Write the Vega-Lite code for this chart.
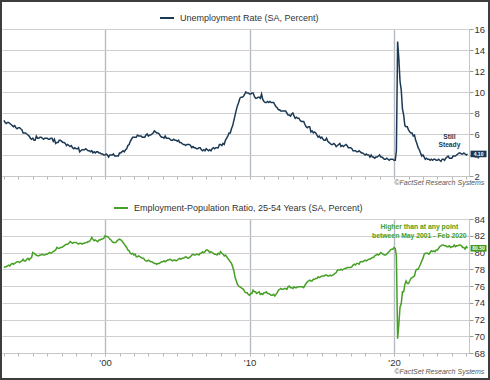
{
"$schema": "https://vega.github.io/schema/vega-lite/v6.json",
"width": 490, "height": 380,
"autosize": {"type": "none"},
"padding": 0,
"background": "white",
"config": {"view": {"stroke": "#3d3d3d", "strokeWidth": 4}, "font": "Liberation Sans"},
"datasets": {"m": [
{"d":"1993-01","u":7.3,"e":78.2},{"d":"1993-02","u":7.1,"e":78.3},{"d":"1993-03","u":7.0,"e":78.3},{"d":"1993-04","u":7.1,"e":78.4},{"d":"1993-05","u":7.1,"e":78.5},{"d":"1993-06","u":7.0,"e":78.4},{"d":"1993-07","u":6.9,"e":78.6},{"d":"1993-08","u":6.8,"e":78.7},{"d":"1993-09","u":6.7,"e":78.6},{"d":"1993-10","u":6.8,"e":78.7},{"d":"1993-11","u":6.6,"e":78.8},{"d":"1993-12","u":6.5,"e":78.9},
{"d":"1994-01","u":6.6,"e":78.9},{"d":"1994-02","u":6.6,"e":78.8},{"d":"1994-03","u":6.5,"e":78.9},{"d":"1994-04","u":6.4,"e":79.0},{"d":"1994-05","u":6.1,"e":79.2},{"d":"1994-06","u":6.1,"e":79.0},{"d":"1994-07","u":6.1,"e":79.0},{"d":"1994-08","u":6.0,"e":79.2},{"d":"1994-09","u":5.9,"e":79.3},{"d":"1994-10","u":5.8,"e":79.1},{"d":"1994-11","u":5.6,"e":79.3},{"d":"1994-12","u":5.5,"e":79.4},
{"d":"1995-01","u":5.6,"e":80.0},{"d":"1995-02","u":5.4,"e":79.9},{"d":"1995-03","u":5.4,"e":79.8},{"d":"1995-04","u":5.8,"e":79.7},{"d":"1995-05","u":5.6,"e":79.6},{"d":"1995-06","u":5.6,"e":79.6},{"d":"1995-07","u":5.7,"e":79.7},{"d":"1995-08","u":5.7,"e":79.7},{"d":"1995-09","u":5.6,"e":79.8},{"d":"1995-10","u":5.5,"e":79.7},{"d":"1995-11","u":5.6,"e":79.7},{"d":"1995-12","u":5.6,"e":79.8},
{"d":"1996-01","u":5.6,"e":79.8},{"d":"1996-02","u":5.5,"e":79.9},{"d":"1996-03","u":5.5,"e":80.0},{"d":"1996-04","u":5.6,"e":79.9},{"d":"1996-05","u":5.6,"e":80.0},{"d":"1996-06","u":5.3,"e":80.1},{"d":"1996-07","u":5.5,"e":80.2},{"d":"1996-08","u":5.1,"e":80.3},{"d":"1996-09","u":5.2,"e":80.6},{"d":"1996-10","u":5.2,"e":80.5},{"d":"1996-11","u":5.4,"e":80.5},{"d":"1996-12","u":5.4,"e":80.6},
{"d":"1997-01","u":5.3,"e":80.6},{"d":"1997-02","u":5.2,"e":80.7},{"d":"1997-03","u":5.2,"e":80.8},{"d":"1997-04","u":5.1,"e":80.9},{"d":"1997-05","u":4.9,"e":81.0},{"d":"1997-06","u":5.0,"e":81.0},{"d":"1997-07","u":4.9,"e":81.1},{"d":"1997-08","u":4.8,"e":81.3},{"d":"1997-09","u":4.9,"e":81.2},{"d":"1997-10","u":4.7,"e":81.1},{"d":"1997-11","u":4.6,"e":81.2},{"d":"1997-12","u":4.7,"e":81.2},
{"d":"1998-01","u":4.6,"e":81.2},{"d":"1998-02","u":4.6,"e":81.1},{"d":"1998-03","u":4.7,"e":81.0},{"d":"1998-04","u":4.3,"e":81.1},{"d":"1998-05","u":4.4,"e":81.1},{"d":"1998-06","u":4.5,"e":81.0},{"d":"1998-07","u":4.5,"e":81.1},{"d":"1998-08","u":4.5,"e":81.1},{"d":"1998-09","u":4.6,"e":81.2},{"d":"1998-10","u":4.5,"e":81.2},{"d":"1998-11","u":4.4,"e":81.3},{"d":"1998-12","u":4.4,"e":81.3},
{"d":"1999-01","u":4.3,"e":81.5},{"d":"1999-02","u":4.4,"e":81.8},{"d":"1999-03","u":4.2,"e":81.6},{"d":"1999-04","u":4.3,"e":81.4},{"d":"1999-05","u":4.2,"e":81.5},{"d":"1999-06","u":4.3,"e":81.4},{"d":"1999-07","u":4.3,"e":81.3},{"d":"1999-08","u":4.2,"e":81.5},{"d":"1999-09","u":4.2,"e":81.5},{"d":"1999-10","u":4.1,"e":81.6},{"d":"1999-11","u":4.1,"e":81.6},{"d":"1999-12","u":4.0,"e":81.7},
{"d":"2000-01","u":4.0,"e":82.0},{"d":"2000-02","u":4.1,"e":81.9},{"d":"2000-03","u":4.0,"e":81.9},{"d":"2000-04","u":3.8,"e":81.8},{"d":"2000-05","u":4.0,"e":81.6},{"d":"2000-06","u":4.0,"e":81.5},{"d":"2000-07","u":4.0,"e":81.3},{"d":"2000-08","u":4.1,"e":81.2},{"d":"2000-09","u":3.9,"e":81.2},{"d":"2000-10","u":3.9,"e":81.2},{"d":"2000-11","u":3.9,"e":81.4},{"d":"2000-12","u":3.9,"e":81.5},
{"d":"2001-01","u":4.2,"e":81.6},{"d":"2001-02","u":4.2,"e":81.5},{"d":"2001-03","u":4.3,"e":81.4},{"d":"2001-04","u":4.4,"e":81.2},{"d":"2001-05","u":4.3,"e":81.0},{"d":"2001-06","u":4.5,"e":80.8},{"d":"2001-07","u":4.6,"e":80.6},{"d":"2001-08","u":4.9,"e":80.3},{"d":"2001-09","u":5.0,"e":80.2},{"d":"2001-10","u":5.3,"e":79.9},{"d":"2001-11","u":5.5,"e":79.8},{"d":"2001-12","u":5.7,"e":79.9},
{"d":"2002-01","u":5.7,"e":79.7},{"d":"2002-02","u":5.7,"e":79.8},{"d":"2002-03","u":5.7,"e":79.5},{"d":"2002-04","u":5.9,"e":79.5},{"d":"2002-05","u":5.8,"e":79.6},{"d":"2002-06","u":5.8,"e":79.5},{"d":"2002-07","u":5.8,"e":79.4},{"d":"2002-08","u":5.7,"e":79.3},{"d":"2002-09","u":5.7,"e":79.3},{"d":"2002-10","u":5.7,"e":79.1},{"d":"2002-11","u":5.9,"e":79.0},{"d":"2002-12","u":6.0,"e":79.0},
{"d":"2003-01","u":5.8,"e":79.1},{"d":"2003-02","u":5.9,"e":79.0},{"d":"2003-03","u":5.9,"e":78.9},{"d":"2003-04","u":6.0,"e":78.9},{"d":"2003-05","u":6.1,"e":78.8},{"d":"2003-06","u":6.3,"e":78.7},{"d":"2003-07","u":6.2,"e":78.7},{"d":"2003-08","u":6.1,"e":78.6},{"d":"2003-09","u":6.1,"e":78.7},{"d":"2003-10","u":6.0,"e":78.7},{"d":"2003-11","u":5.8,"e":78.8},{"d":"2003-12","u":5.7,"e":78.9},
{"d":"2004-01","u":5.7,"e":78.9},{"d":"2004-02","u":5.6,"e":79.0},{"d":"2004-03","u":5.8,"e":78.9},{"d":"2004-04","u":5.6,"e":79.0},{"d":"2004-05","u":5.6,"e":79.1},{"d":"2004-06","u":5.6,"e":79.1},{"d":"2004-07","u":5.5,"e":79.2},{"d":"2004-08","u":5.4,"e":79.1},{"d":"2004-09","u":5.4,"e":79.0},{"d":"2004-10","u":5.5,"e":79.1},{"d":"2004-11","u":5.4,"e":79.1},{"d":"2004-12","u":5.4,"e":79.0},
{"d":"2005-01","u":5.3,"e":79.1},{"d":"2005-02","u":5.4,"e":79.2},{"d":"2005-03","u":5.2,"e":79.3},{"d":"2005-04","u":5.2,"e":79.2},{"d":"2005-05","u":5.1,"e":79.3},{"d":"2005-06","u":5.0,"e":79.3},{"d":"2005-07","u":5.0,"e":79.4},{"d":"2005-08","u":4.9,"e":79.5},{"d":"2005-09","u":5.0,"e":79.4},{"d":"2005-10","u":5.0,"e":79.3},{"d":"2005-11","u":5.0,"e":79.4},{"d":"2005-12","u":4.9,"e":79.5},
{"d":"2006-01","u":4.7,"e":79.7},{"d":"2006-02","u":4.8,"e":79.8},{"d":"2006-03","u":4.7,"e":79.7},{"d":"2006-04","u":4.7,"e":79.7},{"d":"2006-05","u":4.6,"e":79.8},{"d":"2006-06","u":4.6,"e":79.8},{"d":"2006-07","u":4.7,"e":79.7},{"d":"2006-08","u":4.7,"e":79.9},{"d":"2006-09","u":4.5,"e":79.9},{"d":"2006-10","u":4.4,"e":80.1},{"d":"2006-11","u":4.5,"e":80.0},{"d":"2006-12","u":4.4,"e":80.1},
{"d":"2007-01","u":4.6,"e":80.3},{"d":"2007-02","u":4.5,"e":80.3},{"d":"2007-03","u":4.4,"e":80.2},{"d":"2007-04","u":4.5,"e":80.0},{"d":"2007-05","u":4.4,"e":80.1},{"d":"2007-06","u":4.6,"e":80.0},{"d":"2007-07","u":4.7,"e":79.9},{"d":"2007-08","u":4.6,"e":79.8},{"d":"2007-09","u":4.7,"e":79.8},{"d":"2007-10","u":4.7,"e":79.7},{"d":"2007-11","u":4.7,"e":79.9},{"d":"2007-12","u":5.0,"e":79.8},
{"d":"2008-01","u":5.0,"e":80.1},{"d":"2008-02","u":4.9,"e":79.9},{"d":"2008-03","u":5.1,"e":79.8},{"d":"2008-04","u":5.0,"e":79.6},{"d":"2008-05","u":5.4,"e":79.7},{"d":"2008-06","u":5.6,"e":79.5},{"d":"2008-07","u":5.8,"e":79.3},{"d":"2008-08","u":6.1,"e":79.1},{"d":"2008-09","u":6.1,"e":78.9},{"d":"2008-10","u":6.5,"e":78.7},{"d":"2008-11","u":6.8,"e":78.3},{"d":"2008-12","u":7.3,"e":77.8},
{"d":"2009-01","u":7.8,"e":77.0},{"d":"2009-02","u":8.3,"e":76.6},{"d":"2009-03","u":8.7,"e":76.2},{"d":"2009-04","u":9.0,"e":76.0},{"d":"2009-05","u":9.4,"e":75.9},{"d":"2009-06","u":9.5,"e":75.8},{"d":"2009-07","u":9.5,"e":75.7},{"d":"2009-08","u":9.6,"e":75.6},{"d":"2009-09","u":9.8,"e":75.3},{"d":"2009-10","u":10.0,"e":75.2},{"d":"2009-11","u":9.9,"e":75.2},{"d":"2009-12","u":9.9,"e":75.0},
{"d":"2010-01","u":9.8,"e":74.9},{"d":"2010-02","u":9.8,"e":75.1},{"d":"2010-03","u":9.9,"e":75.1},{"d":"2010-04","u":9.9,"e":75.5},{"d":"2010-05","u":9.6,"e":75.3},{"d":"2010-06","u":9.4,"e":75.3},{"d":"2010-07","u":9.4,"e":75.1},{"d":"2010-08","u":9.5,"e":75.2},{"d":"2010-09","u":9.5,"e":75.3},{"d":"2010-10","u":9.4,"e":75.0},{"d":"2010-11","u":9.8,"e":75.1},{"d":"2010-12","u":9.3,"e":75.0},
{"d":"2011-01","u":9.1,"e":75.2},{"d":"2011-02","u":9.0,"e":75.2},{"d":"2011-03","u":9.0,"e":75.3},{"d":"2011-04","u":9.1,"e":75.1},{"d":"2011-05","u":9.0,"e":75.1},{"d":"2011-06","u":9.1,"e":75.0},{"d":"2011-07","u":9.0,"e":74.9},{"d":"2011-08","u":9.0,"e":74.9},{"d":"2011-09","u":9.0,"e":75.0},{"d":"2011-10","u":8.8,"e":74.8},{"d":"2011-11","u":8.6,"e":75.0},{"d":"2011-12","u":8.5,"e":75.2},
{"d":"2012-01","u":8.3,"e":75.5},{"d":"2012-02","u":8.3,"e":75.6},{"d":"2012-03","u":8.2,"e":75.7},{"d":"2012-04","u":8.2,"e":75.6},{"d":"2012-05","u":8.2,"e":75.6},{"d":"2012-06","u":8.2,"e":75.7},{"d":"2012-07","u":8.2,"e":75.7},{"d":"2012-08","u":8.0,"e":75.6},{"d":"2012-09","u":7.8,"e":75.9},{"d":"2012-10","u":7.8,"e":76.0},{"d":"2012-11","u":7.7,"e":75.8},{"d":"2012-12","u":7.9,"e":75.8},
{"d":"2013-01","u":8.0,"e":75.7},{"d":"2013-02","u":7.7,"e":75.9},{"d":"2013-03","u":7.5,"e":75.8},{"d":"2013-04","u":7.6,"e":75.8},{"d":"2013-05","u":7.5,"e":75.9},{"d":"2013-06","u":7.5,"e":75.9},{"d":"2013-07","u":7.3,"e":75.9},{"d":"2013-08","u":7.2,"e":75.9},{"d":"2013-09","u":7.2,"e":75.9},{"d":"2013-10","u":7.2,"e":75.8},{"d":"2013-11","u":6.9,"e":76.1},{"d":"2013-12","u":6.7,"e":76.3},
{"d":"2014-01","u":6.6,"e":76.5},{"d":"2014-02","u":6.7,"e":76.6},{"d":"2014-03","u":6.7,"e":76.7},{"d":"2014-04","u":6.2,"e":76.6},{"d":"2014-05","u":6.3,"e":76.6},{"d":"2014-06","u":6.1,"e":76.8},{"d":"2014-07","u":6.2,"e":76.8},{"d":"2014-08","u":6.1,"e":76.9},{"d":"2014-09","u":5.9,"e":76.9},{"d":"2014-10","u":5.7,"e":77.1},{"d":"2014-11","u":5.8,"e":77.0},{"d":"2014-12","u":5.6,"e":77.1},
{"d":"2015-01","u":5.7,"e":77.2},{"d":"2015-02","u":5.5,"e":77.2},{"d":"2015-03","u":5.4,"e":77.2},{"d":"2015-04","u":5.4,"e":77.3},{"d":"2015-05","u":5.6,"e":77.3},{"d":"2015-06","u":5.3,"e":77.2},{"d":"2015-07","u":5.2,"e":77.2},{"d":"2015-08","u":5.1,"e":77.3},{"d":"2015-09","u":5.0,"e":77.2},{"d":"2015-10","u":5.0,"e":77.3},{"d":"2015-11","u":5.1,"e":77.4},{"d":"2015-12","u":5.0,"e":77.5},
{"d":"2016-01","u":4.8,"e":77.6},{"d":"2016-02","u":4.9,"e":77.9},{"d":"2016-03","u":5.0,"e":77.9},{"d":"2016-04","u":5.1,"e":77.9},{"d":"2016-05","u":4.8,"e":78.0},{"d":"2016-06","u":4.9,"e":77.9},{"d":"2016-07","u":4.8,"e":78.0},{"d":"2016-08","u":4.9,"e":78.1},{"d":"2016-09","u":5.0,"e":78.1},{"d":"2016-10","u":4.9,"e":78.2},{"d":"2016-11","u":4.7,"e":78.2},{"d":"2016-12","u":4.7,"e":78.2},
{"d":"2017-01","u":4.7,"e":78.2},{"d":"2017-02","u":4.6,"e":78.3},{"d":"2017-03","u":4.4,"e":78.5},{"d":"2017-04","u":4.4,"e":78.6},{"d":"2017-05","u":4.4,"e":78.5},{"d":"2017-06","u":4.3,"e":78.7},{"d":"2017-07","u":4.3,"e":78.7},{"d":"2017-08","u":4.4,"e":78.6},{"d":"2017-09","u":4.3,"e":78.9},{"d":"2017-10","u":4.2,"e":78.9},{"d":"2017-11","u":4.2,"e":78.9},{"d":"2017-12","u":4.1,"e":79.0},
{"d":"2018-01","u":4.0,"e":79.1},{"d":"2018-02","u":4.1,"e":79.0},{"d":"2018-03","u":4.0,"e":79.1},{"d":"2018-04","u":4.0,"e":79.2},{"d":"2018-05","u":3.8,"e":79.2},{"d":"2018-06","u":4.0,"e":79.3},{"d":"2018-07","u":3.8,"e":79.4},{"d":"2018-08","u":3.8,"e":79.4},{"d":"2018-09","u":3.7,"e":79.6},{"d":"2018-10","u":3.8,"e":79.7},{"d":"2018-11","u":3.8,"e":79.8},{"d":"2018-12","u":3.9,"e":79.7},
{"d":"2019-01","u":4.0,"e":79.8},{"d":"2019-02","u":3.8,"e":80.0},{"d":"2019-03","u":3.8,"e":79.9},{"d":"2019-04","u":3.7,"e":79.8},{"d":"2019-05","u":3.6,"e":79.7},{"d":"2019-06","u":3.6,"e":79.7},{"d":"2019-07","u":3.7,"e":79.8},{"d":"2019-08","u":3.6,"e":80.0},{"d":"2019-09","u":3.5,"e":80.1},{"d":"2019-10","u":3.6,"e":80.3},{"d":"2019-11","u":3.6,"e":80.4},{"d":"2019-12","u":3.6,"e":80.4},
{"d":"2020-01","u":3.5,"e":80.6},{"d":"2020-02","u":3.5,"e":80.5},{"d":"2020-03","u":4.4,"e":79.6},{"d":"2020-04","u":14.8,"e":69.7},{"d":"2020-05","u":13.2,"e":71.4},{"d":"2020-06","u":11.0,"e":73.5},{"d":"2020-07","u":10.2,"e":73.9},{"d":"2020-08","u":8.4,"e":75.3},{"d":"2020-09","u":7.8,"e":75.3},{"d":"2020-10","u":6.8,"e":76.2},{"d":"2020-11","u":6.7,"e":76.6},{"d":"2020-12","u":6.7,"e":76.3},
{"d":"2021-01","u":6.4,"e":76.3},{"d":"2021-02","u":6.2,"e":76.6},{"d":"2021-03","u":6.1,"e":76.9},{"d":"2021-04","u":6.1,"e":77.0},{"d":"2021-05","u":5.8,"e":77.1},{"d":"2021-06","u":5.9,"e":77.2},{"d":"2021-07","u":5.4,"e":77.8},{"d":"2021-08","u":5.1,"e":78.0},{"d":"2021-09","u":4.7,"e":78.0},{"d":"2021-10","u":4.5,"e":78.3},{"d":"2021-11","u":4.2,"e":78.6},{"d":"2021-12","u":3.9,"e":79.0},
{"d":"2022-01","u":4.0,"e":79.3},{"d":"2022-02","u":3.8,"e":79.8},{"d":"2022-03","u":3.6,"e":79.9},{"d":"2022-04","u":3.7,"e":79.9},{"d":"2022-05","u":3.6,"e":79.9},{"d":"2022-06","u":3.6,"e":79.8},{"d":"2022-07","u":3.5,"e":80.0},{"d":"2022-08","u":3.6,"e":80.2},{"d":"2022-09","u":3.5,"e":80.1},{"d":"2022-10","u":3.6,"e":80.2},{"d":"2022-11","u":3.6,"e":80.1},{"d":"2022-12","u":3.5,"e":80.3},
{"d":"2023-01","u":3.5,"e":80.3},{"d":"2023-02","u":3.6,"e":80.5},{"d":"2023-03","u":3.5,"e":80.7},{"d":"2023-04","u":3.4,"e":80.8},{"d":"2023-05","u":3.6,"e":80.9},{"d":"2023-06","u":3.6,"e":80.9},{"d":"2023-07","u":3.5,"e":80.8},{"d":"2023-08","u":3.7,"e":80.8},{"d":"2023-09","u":3.8,"e":80.7},{"d":"2023-10","u":3.9,"e":80.7},{"d":"2023-11","u":3.7,"e":80.8},{"d":"2023-12","u":3.7,"e":80.6},
{"d":"2024-01","u":3.7,"e":80.7},{"d":"2024-02","u":3.9,"e":80.7},{"d":"2024-03","u":3.9,"e":80.9},{"d":"2024-04","u":3.9,"e":80.7},{"d":"2024-05","u":4.0,"e":80.8},{"d":"2024-06","u":4.1,"e":80.8},{"d":"2024-07","u":4.2,"e":80.9},{"d":"2024-08","u":4.2,"e":80.9},{"d":"2024-09","u":4.1,"e":80.8},{"d":"2024-10","u":4.1,"e":80.6},{"d":"2024-11","u":4.2,"e":80.6},{"d":"2024-12","u":4.1,"e":80.4},
{"d":"2025-01","u":4.0,"e":80.7},{"d":"2025-02","u":4.1,"e":80.5}
]},
"data": {"name": "m"},
"layer": [
{
 "layer": [
  {
   "transform": [{"filter": "time(datum.d) > utc(2025,0,15)"}],
   "mark": {"type": "point", "shape": "M0.6,-0.66H3.8V0.66H0.6Z", "size": 100, "filled": true, "color": "#1c3954", "opacity": 1, "strokeWidth": 0},
   "encoding": {
    "x": {"field": "d", "type": "temporal", "scale": {"domain": [{"year":1992,"month":11,"date":14},{"year":2025,"month":3,"date":10}], "range": [2, 469], "nice": false},
          "axis": {"orient": "top", "grid": true, "values": [{"year":2000},{"year":2010},{"year":2020}], "gridColor": "#b4bbc3", "gridWidth": 1.4, "labels": false, "ticks": false, "domain": false, "title": null}},
    "y": {"field": "u", "type": "quantitative", "scale": {"domain": [2, 16], "range": [176, 29], "nice": false, "zero": false},
          "axis": {"orient": "left", "grid": true, "values": [2,4,6,8,10,12,14,16], "gridColor": "#cfcfcf", "gridWidth": 1.2, "labels": false, "ticks": false, "domain": false, "title": null}}
   }
  },
  {
   "mark": {"type": "line", "strokeWidth": 1.5},
   "encoding": {
    "x": {"field": "d", "type": "temporal", "scale": {"domain": [{"year":1992,"month":11,"date":14},{"year":2025,"month":3,"date":10}], "range": [2, 469], "nice": false},
          "axis": {"orient": "bottom", "offset": -204, "grid": false, "tickCount": {"interval": "year", "step": 1}, "labels": false, "ticks": true, "tickSize": 3, "tickColor": "#b5b5b5", "domainColor": "#c6c6c6", "title": null}},
    "y": {"field": "u", "type": "quantitative", "scale": {"domain": [2, 16], "range": [176, 29], "nice": false, "zero": false},
          "axis": {"orient": "right", "offset": -21, "grid": false, "values": [2,4,6,8,10,12,14,16], "tickSize": 4, "tickColor": "#9a9a9a", "domainColor": "#c6c6c6", "labelFontSize": 9.5, "labelColor": "#333333", "labelPadding": 1, "labelFont": "Liberation Sans", "title": null}},
    "color": {"datum": "Unemployment Rate (SA, Percent)", "scale": {"range": ["#1c3954"]},
              "legend": {"orient": "none", "legendX": 159, "legendY": 10, "title": null, "symbolType": "stroke", "symbolSize": 196, "symbolStrokeWidth": 2, "labelFontSize": 9, "labelColor": "#333333", "labelFont": "Liberation Sans", "labelOffset": 5, "labelLimit": 400, "padding": 0}}
   }
  },
  {
   "transform": [{"filter": "time(datum.d) > utc(2025,0,15)"}],
   "mark": {"type": "text", "color": "white", "fontSize": 5, "fontWeight": "bold", "dx": 11, "align": "center", "baseline": "middle"},
   "encoding": {
    "x": {"field": "d", "type": "temporal", "axis": null},
    "y": {"field": "u", "type": "quantitative", "axis": null},
    "text": {"field": "u", "format": ".2f"}
   }
  },
  {
   "data": {"values": [{"note": "Still Steady"}]},
   "mark": {"type": "text", "text": ["Still", "Steady"], "color": "#1c3954", "fontSize": 6.7, "fontWeight": "bold", "lineHeight": 8, "align": "center", "baseline": "middle"},
   "encoding": {
    "x": {"datum": {"year": 2023, "month": 11}, "type": "temporal", "axis": null},
    "y": {"datum": 5.7, "type": "quantitative", "axis": null}
   }
  },
  {
   "data": {"values": [{"note": "source"}]},
   "mark": {"type": "text", "text": "©FactSet Research Systems", "color": "#555555", "fontSize": 7, "fontStyle": "italic", "align": "right", "baseline": "middle", "dx": 15.3},
   "encoding": {
    "x": {"datum": {"year": 2025, "month": 3, "date": 10}, "type": "temporal", "axis": null},
    "y": {"datum": 1.36, "type": "quantitative", "axis": null}
   }
  }
 ],
 "resolve": {"axis": {"x": "independent", "y": "independent"}}
},
{
 "layer": [
  {
   "transform": [{"filter": "time(datum.d) > utc(2025,0,15)"}],
   "mark": {"type": "point", "shape": "M0.6,-0.66H3.8V0.66H0.6Z", "size": 100, "filled": true, "color": "#3f9c1d", "opacity": 1, "strokeWidth": 0},
   "encoding": {
    "x": {"field": "d", "type": "temporal", "scale": {"domain": [{"year":1992,"month":11,"date":14},{"year":2025,"month":3,"date":10}], "range": [2, 469], "nice": false},
          "axis": {"orient": "top", "grid": true, "values": [{"year":2000},{"year":2010},{"year":2020}], "gridColor": "#b4bbc3", "gridWidth": 1.4, "labels": false, "ticks": false, "domain": false, "title": null}},
    "y": {"field": "e", "type": "quantitative", "scale": {"domain": [68, 84], "range": [353, 219], "nice": false, "zero": false},
          "axis": {"orient": "left", "grid": true, "values": [68,70,72,74,76,78,80,82,84], "gridColor": "#cfcfcf", "gridWidth": 1.2, "labels": false, "ticks": false, "domain": false, "title": null}}
   }
  },
  {
   "mark": {"type": "line", "strokeWidth": 1.5},
   "encoding": {
    "x": {"field": "d", "type": "temporal", "scale": {"domain": [{"year":1992,"month":11,"date":14},{"year":2025,"month":3,"date":10}], "range": [2, 469], "nice": false},
          "axis": {"orient": "bottom", "offset": -27, "grid": false, "tickCount": {"interval": "year", "step": 1}, "labelExpr": "year(datum.value) % 10 === 0 ? \"'\" + timeFormat(datum.value, '%y') : ''", "labelOverlap": false, "labelFlush": false, "labelFontSize": 9.5, "labelColor": "#333333", "labelFont": "Liberation Sans", "labelPadding": 1, "ticks": true, "tickSize": 3, "tickColor": "#b5b5b5", "domainColor": "#c6c6c6", "title": null}},
    "y": {"field": "e", "type": "quantitative", "scale": {"domain": [68, 84], "range": [353, 219], "nice": false, "zero": false},
          "axis": {"orient": "right", "offset": -21, "grid": false, "values": [68,70,72,74,76,78,80,82,84], "tickSize": 4, "tickColor": "#9a9a9a", "domainColor": "#c6c6c6", "labelFontSize": 9.5, "labelColor": "#333333", "labelPadding": 1, "labelFont": "Liberation Sans", "title": null}},
    "color": {"datum": "Employment-Population Ratio, 25-54 Years (SA, Percent)", "scale": {"range": ["#46a024"]},
              "legend": {"orient": "none", "legendX": 113, "legendY": 200, "title": null, "symbolType": "stroke", "symbolSize": 196, "symbolStrokeWidth": 2, "labelFontSize": 9, "labelColor": "#333333", "labelFont": "Liberation Sans", "labelOffset": 5, "labelLimit": 400, "padding": 0}}
   }
  },
  {
   "transform": [{"filter": "time(datum.d) > utc(2025,0,15)"}],
   "mark": {"type": "text", "color": "white", "fontSize": 5, "fontWeight": "bold", "dx": 11, "align": "center", "baseline": "middle"},
   "encoding": {
    "x": {"field": "d", "type": "temporal", "axis": null},
    "y": {"field": "e", "type": "quantitative", "axis": null},
    "text": {"field": "e", "format": ".2f"}
   }
  },
  {
   "data": {"values": [{"note": "Higher than at any point"}]},
   "mark": {"type": "text", "text": ["Higher than at any point", "between May 2001 - Feb 2020"], "color": "#46a024", "fontSize": 6.8, "fontWeight": "bold", "lineHeight": 8.4, "align": "center", "baseline": "middle"},
   "encoding": {
    "x": {"datum": {"year": 2021, "month": 10}, "type": "temporal", "axis": null},
    "y": {"datum": 83.0, "type": "quantitative", "axis": null}
   }
  },
  {
   "data": {"values": [{"note": "source"}]},
   "mark": {"type": "text", "text": "©FactSet Research Systems", "color": "#555555", "fontSize": 7, "fontStyle": "italic", "align": "right", "baseline": "middle", "dx": 15.3},
   "encoding": {
    "x": {"datum": {"year": 2025, "month": 3, "date": 10}, "type": "temporal", "axis": null},
    "y": {"datum": 65.7, "type": "quantitative", "axis": null}
   }
  }
 ],
 "resolve": {"axis": {"x": "independent", "y": "independent"}}
}
],
"resolve": {"scale": {"x": "independent", "y": "independent", "color": "independent"}, "axis": {"x": "independent", "y": "independent"}, "legend": {"color": "independent"}}
}
